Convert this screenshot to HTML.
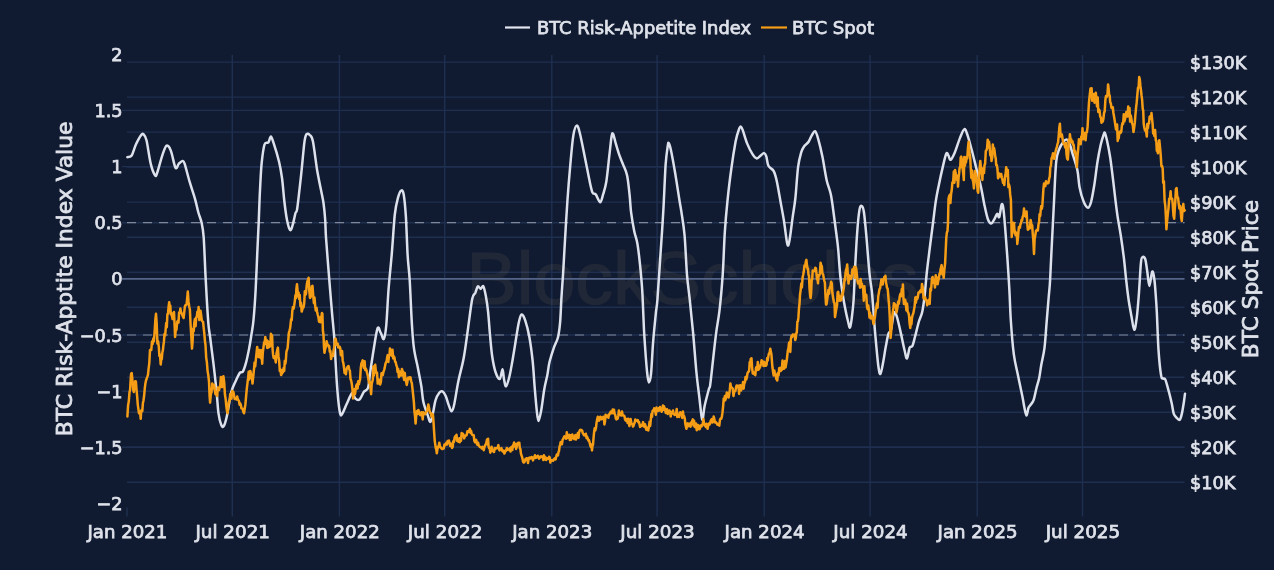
<!DOCTYPE html>
<html lang="en"><head><meta charset="utf-8"><title>BTC Risk-Appetite Index vs BTC Spot</title>
<style>html,body{margin:0;padding:0;background:#101b31;}body{width:1274px;height:570px;overflow:hidden;}svg{display:block;filter:blur(0.5px);}</style>
</head><body>
<svg width="1274" height="570" viewBox="0 0 1274 570">
<rect width="1274" height="570" fill="#101b31"/>
<g stroke="#1f2f50" stroke-width="1.4" fill="none"><line x1="127.0" y1="507.5" x2="127.0" y2="516.5"/><line x1="232.3" y1="55.0" x2="232.3" y2="516.5"/><line x1="339.4" y1="55.0" x2="339.4" y2="516.5"/><line x1="444.7" y1="55.0" x2="444.7" y2="516.5"/><line x1="551.8" y1="55.0" x2="551.8" y2="516.5"/><line x1="657.1" y1="55.0" x2="657.1" y2="516.5"/><line x1="764.2" y1="55.0" x2="764.2" y2="516.5"/><line x1="870.1" y1="55.0" x2="870.1" y2="516.5"/><line x1="977.2" y1="55.0" x2="977.2" y2="516.5"/><line x1="1082.5" y1="55.0" x2="1082.5" y2="516.5"/><line x1="127.0" y1="482.3" x2="1184.5" y2="482.3"/><line x1="127.0" y1="447.3" x2="1184.5" y2="447.3"/><line x1="127.0" y1="412.3" x2="1184.5" y2="412.3"/><line x1="127.0" y1="377.2" x2="1184.5" y2="377.2"/><line x1="127.0" y1="342.2" x2="1184.5" y2="342.2"/><line x1="127.0" y1="307.2" x2="1184.5" y2="307.2"/><line x1="127.0" y1="272.2" x2="1184.5" y2="272.2"/><line x1="127.0" y1="237.2" x2="1184.5" y2="237.2"/><line x1="127.0" y1="202.1" x2="1184.5" y2="202.1"/><line x1="127.0" y1="167.1" x2="1184.5" y2="167.1"/><line x1="127.0" y1="132.1" x2="1184.5" y2="132.1"/><line x1="127.0" y1="97.1" x2="1184.5" y2="97.1"/><line x1="127.0" y1="62.1" x2="1184.5" y2="62.1"/><line x1="122.0" y1="110.4" x2="1184.5" y2="110.4"/><line x1="122.0" y1="166.6" x2="1184.5" y2="166.6"/><line x1="122.0" y1="222.7" x2="1184.5" y2="222.7"/><line x1="122.0" y1="335.0" x2="1184.5" y2="335.0"/><line x1="122.0" y1="391.2" x2="1184.5" y2="391.2"/><line x1="122.0" y1="447.3" x2="1184.5" y2="447.3"/></g>
<text x="466.5" y="304" font-family="Liberation Sans, Arial, sans-serif" font-size="74" fill="#a08868" stroke="#a08868" stroke-width="1.2" opacity="0.115" textLength="452" lengthAdjust="spacingAndGlyphs">BlockScholes</text>
<line x1="122.0" y1="278.9" x2="1184.5" y2="278.9" stroke="#55658a" stroke-width="1.6"/>
<line x1="127.0" y1="222.7" x2="1184.5" y2="222.7" stroke="#7f8798" stroke-width="1.2" stroke-dasharray="9,7"/>
<line x1="127.0" y1="335.0" x2="1184.5" y2="335.0" stroke="#7f8798" stroke-width="1.2" stroke-dasharray="9,7"/>
<path d="M127.4,157.2C128.1,156.9 130.3,157.6 131.7,155.5C133.1,153.4 134.3,147.9 135.9,144.5C137.5,141.1 139.9,136.7 141.2,135.0C142.5,133.3 142.8,133.6 143.7,134.5C144.6,135.4 145.3,135.5 146.5,140.3C147.7,145.2 149.3,157.8 150.7,163.6C152.1,169.4 153.9,173.6 155.0,175.2C156.1,176.8 155.9,176.4 157.1,173.1C158.3,169.8 160.8,159.7 162.4,155.1C164.0,150.5 165.2,146.3 166.6,145.6C168.0,144.9 169.4,147.2 170.9,150.9C172.4,154.6 174.2,165.7 175.5,167.8C176.8,169.9 177.7,164.7 178.9,163.6C180.1,162.5 181.6,161.0 182.5,161.0C183.4,161.0 183.4,160.0 184.6,163.6C185.8,167.2 188.1,176.7 189.9,182.7C191.7,188.7 193.8,194.5 195.2,199.6C196.6,204.7 197.4,209.2 198.5,213.0C199.6,216.8 200.7,218.6 201.6,222.7C202.5,226.8 203.1,229.0 203.7,237.5C204.3,246.0 204.9,263.0 205.4,273.6C205.9,284.2 206.4,292.5 206.9,301.1C207.4,309.7 208.0,319.0 208.5,325.0C209.0,331.0 209.3,330.8 210.1,337.0C210.9,343.2 212.2,353.6 213.3,362.4C214.4,371.2 215.5,381.5 216.4,390.0C217.3,398.5 217.7,407.5 218.5,413.3C219.3,419.1 220.4,422.8 221.3,424.9C222.2,427.0 222.9,427.6 223.8,426.0C224.8,424.4 225.8,421.0 227.0,415.4C228.2,409.8 229.9,397.8 231.3,392.1C232.7,386.5 234.1,384.7 235.5,381.5C236.9,378.3 238.5,374.7 239.7,373.0C240.9,371.3 241.8,373.3 242.9,371.5C244.0,369.7 245.0,366.4 246.1,362.4C247.2,358.4 248.4,352.2 249.3,347.6C250.2,343.0 250.7,339.4 251.4,334.8C252.1,330.2 252.8,327.4 253.5,320.0C254.2,312.6 255.0,301.8 255.6,290.5C256.2,279.2 256.8,264.1 257.3,252.4C257.8,240.7 258.4,230.4 258.8,220.0C259.2,209.6 259.5,199.4 260.0,190.0C260.5,180.6 260.9,171.2 261.6,163.6C262.4,156.0 263.4,148.0 264.5,144.5C265.6,141.0 267.3,143.7 268.4,142.4C269.5,141.1 270.0,136.3 270.9,136.5C271.8,136.7 272.3,139.2 273.7,143.4C275.1,147.6 277.6,155.7 279.0,161.5C280.4,167.3 281.1,171.6 282.0,178.0C282.9,184.4 283.4,193.0 284.2,200.0C285.0,207.0 286.0,215.0 287.0,220.0C288.0,225.0 289.2,229.3 290.2,230.1C291.1,230.9 291.8,227.7 292.7,224.8C293.6,222.0 294.7,215.8 295.5,213.0C296.3,210.2 296.4,214.5 297.3,208.0C298.2,201.5 300.0,185.1 301.2,174.2C302.4,163.3 303.5,149.1 304.4,142.4C305.3,135.8 305.6,135.5 306.5,134.3C307.4,133.1 308.6,133.8 309.7,135.0C310.8,136.2 311.7,135.5 312.9,141.3C314.1,147.1 315.8,161.9 317.1,170.0C318.5,178.1 319.9,184.5 321.0,190.0C322.1,195.5 322.8,198.0 323.5,203.0C324.2,208.0 324.8,214.2 325.2,220.0C325.6,225.8 325.4,228.6 326.0,237.5C326.6,246.4 327.8,261.2 328.8,273.6C329.8,286.0 331.1,302.3 331.9,311.7C332.7,321.1 333.2,325.1 333.6,330.0C334.0,334.9 334.1,334.0 334.5,341.2C334.9,348.4 335.6,363.1 336.2,373.0C336.8,382.9 337.6,393.6 338.3,400.5C339.0,407.4 339.7,412.2 340.4,414.3C341.1,416.4 341.4,415.1 342.5,413.3C343.6,411.5 345.2,407.1 346.8,403.7C348.4,400.3 350.7,394.0 352.1,393.1C353.5,392.2 354.0,397.3 355.2,398.4C356.4,399.5 358.1,400.6 359.5,399.5C360.9,398.4 362.3,394.1 363.7,392.1C365.1,390.2 366.9,391.0 368.0,387.8C369.1,384.6 369.2,379.0 370.1,373.0C371.0,367.0 372.1,359.2 373.3,351.8C374.5,344.4 376.3,331.7 377.5,328.5C378.7,325.3 379.6,330.9 380.7,332.7C381.8,334.4 382.9,340.1 383.8,339.0C384.7,337.9 385.4,334.2 386.2,326.0C387.0,317.8 387.6,301.9 388.5,290.0C389.4,278.1 390.6,267.4 391.7,254.8C392.8,242.2 393.8,224.0 394.8,214.5C395.9,205.0 396.9,201.6 398.0,197.6C399.1,193.6 400.2,191.1 401.2,190.6C402.1,190.1 402.9,190.1 403.7,194.4C404.5,198.7 405.2,206.5 405.9,216.6C406.5,226.7 407.0,244.2 407.6,254.8C408.2,265.4 409.0,268.7 409.7,280.0C410.4,291.3 411.1,311.1 411.8,322.4C412.5,333.7 412.8,340.0 413.9,347.8C414.9,355.6 416.9,362.6 418.1,369.0C419.3,375.4 420.4,380.5 421.3,386.0C422.2,391.5 422.3,397.1 423.4,402.0C424.5,406.9 426.5,411.8 427.7,415.1C428.9,418.4 429.5,422.2 430.4,421.9C431.3,421.5 432.1,416.6 433.0,413.0C433.9,409.4 434.4,403.7 435.5,400.3C436.6,396.9 438.1,394.3 439.3,392.8C440.5,391.3 441.4,390.9 442.5,391.4C443.6,391.9 444.6,393.6 445.7,396.0C446.8,398.4 447.9,403.1 448.9,405.6C449.9,408.2 450.7,411.5 451.6,411.3C452.5,411.1 453.1,409.6 454.2,404.5C455.3,399.4 456.8,388.8 458.4,381.0C460.0,373.2 462.1,366.7 463.7,358.0C465.3,349.3 466.6,338.5 468.0,328.7C469.4,318.9 471.0,305.1 472.2,299.1C473.4,293.1 474.4,294.8 475.4,292.7C476.3,290.6 477.0,287.0 477.9,286.4C478.8,285.8 479.8,288.9 480.7,288.9C481.6,288.9 482.5,285.0 483.4,286.4C484.3,287.8 485.2,292.8 486.0,297.0C486.8,301.2 487.4,305.1 488.1,311.8C488.8,318.5 489.5,329.7 490.2,337.2C490.9,344.7 491.4,351.2 492.3,357.0C493.2,362.8 494.3,368.3 495.5,372.0C496.7,375.7 498.5,379.4 499.7,379.0C500.9,378.6 501.8,369.2 502.5,369.3C503.2,369.4 503.4,376.5 504.0,379.3C504.6,382.1 505.2,386.7 506.1,386.3C507.0,385.9 508.2,381.3 509.3,377.0C510.4,372.7 511.4,366.4 512.5,360.5C513.5,354.6 514.6,347.9 515.6,341.5C516.6,335.1 517.8,326.9 518.8,322.4C519.8,317.9 520.5,314.9 521.6,314.5C522.7,314.1 523.9,316.5 525.2,320.3C526.5,324.1 528.2,330.5 529.4,337.2C530.6,343.9 531.7,352.1 532.6,360.5C533.5,368.9 534.0,379.2 534.7,387.6C535.4,396.0 536.2,405.3 536.8,410.9C537.4,416.5 537.8,421.0 538.5,421.0C539.2,421.0 540.1,416.1 541.1,410.9C542.1,405.7 543.2,395.7 544.2,389.7C545.2,383.7 546.5,379.4 547.4,374.8C548.3,370.2 548.4,366.5 549.5,362.0C550.6,357.5 552.4,351.9 553.8,347.8C555.2,343.7 557.0,341.4 558.0,337.2C559.0,333.0 559.5,329.1 560.1,322.4C560.7,315.7 561.0,304.9 561.5,297.0C562.0,289.1 562.5,282.8 563.0,275.0C563.5,267.2 563.7,262.8 564.4,250.5C565.1,238.2 566.4,215.3 567.4,201.0C568.4,186.7 569.3,175.8 570.3,164.8C571.3,153.8 572.3,141.6 573.4,135.1C574.5,128.6 575.5,125.9 576.6,125.6C577.7,125.2 578.4,127.5 579.8,133.0C581.2,138.5 583.5,150.6 585.1,158.4C586.7,166.2 588.1,173.9 589.3,179.6C590.5,185.3 591.4,190.0 592.5,192.5C593.6,195.0 594.4,192.8 595.7,194.4C597.0,196.0 599.0,202.2 600.2,202.2C601.4,202.2 602.1,197.8 603.1,194.4C604.1,191.0 605.2,188.4 606.3,181.7C607.4,175.0 608.6,161.8 609.5,154.2C610.4,146.6 611.0,139.6 611.6,136.2C612.2,132.8 612.4,132.8 613.1,134.0C613.8,135.2 614.8,140.2 615.8,143.6C616.8,147.0 617.8,150.7 619.0,154.2C620.2,157.7 621.9,161.3 623.2,164.8C624.6,168.3 626.0,170.4 627.1,175.4C628.2,180.4 628.9,188.8 629.6,195.0C630.3,201.2 630.3,206.3 631.1,212.4C631.9,218.5 633.2,226.2 634.3,231.5C635.4,236.8 636.4,237.5 637.5,244.2C638.6,250.9 639.9,263.2 640.7,271.7C641.5,280.2 642.0,285.3 642.5,295.0C643.0,304.7 643.5,320.8 644.0,330.0C644.5,339.2 644.8,342.7 645.3,350.0C645.8,357.3 646.7,368.6 647.3,374.0C647.9,379.4 648.3,382.4 648.9,382.4C649.5,382.4 650.3,380.9 651.0,374.2C651.7,367.5 652.3,352.6 653.1,342.4C653.9,332.1 655.2,319.8 655.9,312.7C656.6,305.6 656.7,308.8 657.4,300.0C658.1,291.2 659.1,274.8 660.1,260.0C661.1,245.2 662.4,227.1 663.3,211.2C664.2,195.3 664.9,175.7 665.6,164.8C666.4,153.9 667.3,149.3 667.8,145.7C668.3,142.1 668.3,142.5 668.8,143.2C669.3,143.9 669.8,144.9 670.9,149.9C672.0,154.9 673.8,165.0 675.2,173.3C676.6,181.7 678.4,193.7 679.4,200.0C680.4,206.3 680.4,205.4 681.3,211.2C682.1,216.9 683.5,223.9 684.5,234.5C685.5,245.1 686.1,263.9 687.0,274.8C687.9,285.8 688.8,290.7 689.8,300.2C690.8,309.7 691.9,320.2 693.0,331.8C694.1,343.4 695.2,359.1 696.2,370.0C697.2,380.9 698.3,388.8 699.3,397.0C700.3,405.2 701.3,418.0 702.2,419.5C703.1,421.0 703.5,411.1 704.6,406.0C705.7,400.9 708.0,392.5 708.9,389.0C709.8,385.5 709.5,389.8 710.2,384.8C710.9,379.9 712.1,368.1 713.1,359.3C714.1,350.5 715.2,340.0 716.3,331.8C717.4,323.6 718.4,319.8 719.5,310.3C720.6,300.8 721.8,287.8 722.7,274.8C723.6,261.8 724.0,244.8 724.8,232.4C725.6,220.0 726.4,211.2 727.5,200.6C728.6,190.0 729.9,178.8 731.3,169.0C732.6,159.2 734.4,148.0 735.6,141.5C736.9,135.0 737.9,132.3 738.8,129.8C739.7,127.3 740.2,126.4 740.9,126.6C741.6,126.8 742.0,128.1 743.0,130.9C744.0,133.7 745.6,139.7 747.2,143.6C748.8,147.5 750.9,151.7 752.5,154.2C754.1,156.7 755.4,158.2 756.8,158.4C758.2,158.6 759.8,156.1 761.0,155.2C762.2,154.3 763.3,152.9 764.2,153.1C765.1,153.3 765.6,154.2 766.3,156.3C767.0,158.4 767.2,163.3 768.4,165.8C769.6,168.3 772.3,168.4 773.7,171.1C775.1,173.8 775.8,176.6 776.9,181.7C778.0,186.8 779.3,194.8 780.5,201.5C781.7,208.2 783.0,214.7 784.1,221.8C785.2,228.9 786.4,240.8 787.3,244.0C788.2,247.2 788.5,245.3 789.4,240.9C790.3,236.5 791.6,224.8 792.6,217.6C793.6,210.4 794.5,206.4 795.4,198.0C796.3,189.6 797.1,174.5 798.1,166.9C799.1,159.3 800.2,155.9 801.2,152.4C802.2,148.9 803.2,147.8 804.4,146.0C805.6,144.2 807.4,143.6 808.6,141.8C809.8,140.0 810.7,137.2 811.8,135.4C812.9,133.6 814.0,130.7 815.0,131.2C816.0,131.7 816.9,134.4 818.1,138.6C819.3,142.8 821.0,149.7 822.4,156.6C823.8,163.5 825.2,173.5 826.6,179.9C828.0,186.3 829.7,188.8 830.9,194.8C832.1,200.8 833.1,209.3 834.0,216.0C834.9,222.7 835.8,229.4 836.5,235.0C837.2,240.6 837.6,242.5 838.2,249.3C838.8,256.1 839.5,268.2 840.3,276.0C841.1,283.8 842.2,290.5 843.0,296.0C843.8,301.5 844.5,305.0 845.3,309.0C846.1,313.0 846.9,316.9 847.7,320.0C848.5,323.1 849.3,328.1 850.0,327.6C850.7,327.1 851.3,321.6 851.9,317.0C852.5,312.4 853.1,307.8 853.6,300.0C854.1,292.2 854.4,281.5 855.0,270.0C855.6,258.5 856.5,241.1 857.3,231.0C858.0,220.9 858.8,213.8 859.5,209.6C860.2,205.4 861.1,205.6 861.8,206.0C862.5,206.4 863.1,206.7 863.9,212.0C864.7,217.3 865.6,227.3 866.5,237.6C867.4,247.9 868.6,264.7 869.5,273.6C870.4,282.5 871.1,284.6 871.8,291.0C872.5,297.4 872.9,304.7 873.5,312.0C874.1,319.3 874.5,326.2 875.3,335.0C876.1,343.8 877.4,358.5 878.2,365.0C879.1,371.5 879.6,374.5 880.4,374.0C881.2,373.5 882.3,366.6 883.2,362.0C884.1,357.4 884.9,351.3 885.8,346.6C886.7,341.9 887.5,336.8 888.4,333.9C889.3,331.0 890.2,332.8 891.1,329.3C892.0,325.9 893.0,315.4 893.9,313.2C894.8,310.9 895.5,312.7 896.6,315.8C897.7,318.9 899.2,325.9 900.5,331.6C901.8,337.3 903.4,345.5 904.5,350.0C905.6,354.5 906.1,358.9 907.0,358.5C907.9,358.1 908.7,349.9 909.6,347.8C910.5,345.7 911.5,347.8 912.4,346.0C913.3,344.2 913.9,340.9 915.0,336.8C916.1,332.7 917.7,325.6 918.9,321.5C920.1,317.4 921.3,316.1 922.2,312.0C923.1,307.9 923.7,303.6 924.5,297.0C925.3,290.4 925.9,280.8 926.8,272.5C927.7,264.2 928.9,255.2 929.9,247.0C930.9,238.8 932.0,230.7 933.0,223.0C934.0,215.3 934.8,207.6 935.8,201.1C936.8,194.6 937.8,190.2 939.0,184.2C940.2,178.2 942.0,170.2 943.2,165.1C944.4,160.0 945.5,155.0 946.4,153.4C947.3,151.8 947.8,154.5 948.5,155.6C949.2,156.7 949.6,160.3 950.6,159.8C951.6,159.3 953.2,156.1 954.8,152.4C956.4,148.7 958.5,141.5 960.1,137.6C961.7,133.7 963.1,129.5 964.4,129.1C965.6,128.7 966.4,131.9 967.6,135.4C968.8,138.9 970.2,144.3 971.8,150.3C973.4,156.3 975.5,165.2 977.1,171.5C978.7,177.8 980.1,182.8 981.3,188.4C982.5,194.1 983.4,200.2 984.5,205.4C985.6,210.6 986.8,216.3 987.9,219.3C989.0,222.3 990.0,223.6 991.1,223.6C992.2,223.6 993.3,220.9 994.3,219.3C995.3,217.7 996.4,214.2 997.2,213.8C998.0,213.4 998.5,218.6 999.3,217.0C1000.0,215.4 1001.0,205.7 1001.7,204.5C1002.4,203.3 1002.9,205.2 1003.5,209.6C1004.1,214.0 1004.8,223.2 1005.4,231.0C1006.0,238.8 1006.6,246.7 1007.3,256.6C1008.0,266.5 1008.8,279.9 1009.4,290.5C1010.0,301.1 1010.1,309.4 1010.8,320.0C1011.5,330.6 1012.6,345.0 1013.8,354.2C1015.0,363.4 1016.6,368.4 1018.0,375.4C1019.4,382.4 1021.2,390.6 1022.3,396.0C1023.4,401.4 1023.7,404.3 1024.4,407.6C1025.1,410.9 1025.8,415.6 1026.5,415.6C1027.2,415.6 1027.7,409.7 1028.6,407.6C1029.5,405.6 1030.9,404.7 1031.8,403.3C1032.7,401.9 1033.1,401.7 1033.9,399.1C1034.7,396.6 1035.6,391.5 1036.5,388.0C1037.4,384.5 1038.4,381.9 1039.2,378.0C1040.0,374.1 1040.4,369.8 1041.3,364.8C1042.2,359.8 1043.6,354.9 1044.5,347.8C1045.4,340.7 1045.9,330.9 1046.6,322.4C1047.3,313.9 1048.1,304.1 1048.7,297.0C1049.3,289.9 1049.6,289.0 1050.1,280.0C1050.6,271.0 1051.2,256.0 1051.9,243.0C1052.6,230.0 1053.3,215.4 1054.0,201.8C1054.7,188.2 1055.3,170.5 1056.2,161.7C1057.1,152.9 1058.1,152.3 1059.3,149.0C1060.5,145.7 1062.3,143.2 1063.6,141.6C1064.8,140.0 1065.8,139.0 1066.8,139.5C1067.8,140.0 1068.9,142.2 1069.9,144.8C1071.0,147.5 1071.8,151.2 1073.1,155.4C1074.3,159.6 1076.3,164.9 1077.4,170.2C1078.5,175.5 1078.5,181.7 1079.5,187.0C1080.5,192.3 1082.3,198.4 1083.7,201.8C1085.1,205.2 1086.8,207.7 1088.0,207.7C1089.2,207.7 1090.0,205.6 1091.1,201.8C1092.1,198.0 1093.2,191.7 1094.3,185.0C1095.4,178.3 1096.4,168.4 1097.5,161.7C1098.6,155.0 1099.7,149.4 1100.7,144.8C1101.8,140.2 1103.1,136.1 1103.8,134.2C1104.5,132.2 1104.4,132.0 1104.9,133.1C1105.4,134.2 1106.1,136.4 1107.0,140.5C1107.9,144.6 1109.3,151.6 1110.2,157.5C1111.1,163.4 1111.9,170.4 1112.6,176.0C1113.3,181.6 1113.6,184.4 1114.4,191.2C1115.2,198.0 1116.5,209.2 1117.6,216.6C1118.7,224.0 1119.7,228.6 1120.8,235.7C1121.9,242.8 1123.1,251.4 1124.0,259.0C1124.9,266.6 1125.5,274.3 1126.3,281.0C1127.0,287.7 1127.7,293.2 1128.5,299.0C1129.3,304.8 1130.5,310.9 1131.4,316.0C1132.4,321.1 1133.3,329.4 1134.2,329.8C1135.1,330.2 1135.9,323.9 1136.7,318.1C1137.5,312.3 1138.1,304.1 1138.8,295.0C1139.5,285.9 1140.3,269.5 1140.9,263.2C1141.5,256.9 1141.7,258.0 1142.4,257.3C1143.1,256.6 1144.4,256.6 1145.2,259.0C1146.0,261.4 1146.6,267.2 1147.3,271.7C1148.0,276.2 1148.6,286.0 1149.4,286.0C1150.2,286.0 1151.4,272.9 1152.2,271.7C1153.0,270.5 1153.8,275.6 1154.3,279.0C1154.8,282.4 1155.1,286.5 1155.5,292.0C1155.9,297.5 1156.3,302.2 1156.8,311.8C1157.3,321.4 1157.8,339.3 1158.5,349.9C1159.2,360.5 1160.3,370.6 1161.1,375.4C1161.9,380.2 1162.5,377.8 1163.2,378.5C1163.9,379.2 1164.4,377.6 1165.3,379.6C1166.2,381.6 1167.4,386.4 1168.5,390.4C1169.6,394.3 1170.8,399.4 1171.7,403.3C1172.6,407.2 1172.9,411.4 1173.8,413.9C1174.7,416.4 1176.0,417.1 1177.0,418.1C1178.0,419.1 1178.9,420.5 1179.7,419.8C1180.5,419.1 1181.1,417.0 1181.8,413.9C1182.5,410.8 1183.5,404.5 1184.0,401.2C1184.5,397.9 1184.8,395.0 1185.0,393.8" fill="none" stroke="#dde1ec" stroke-width="2.5" stroke-linejoin="round" stroke-linecap="round"/>
<path d="M127.4,416.4L128.1,405.2L128.8,401.1L129.5,392.0L130.1,389.9L130.6,380.9L131.1,373.9L131.7,373.0L132.2,377.6L132.8,384.0L133.3,390.2L133.8,392.0L134.5,385.0L135.2,381.2L135.9,381.5L136.5,389.6L137.1,395.6L137.8,404.8L138.4,409.1L139.0,413.3L139.6,412.7L140.1,411.9L140.7,418.8L141.2,411.1L141.8,409.9L142.3,411.1L142.9,403.1L143.5,400.4L144.2,395.0L144.8,388.2L145.4,383.6L146.0,380.5L146.7,378.5L147.3,376.9L148.0,374.7L148.6,368.7L149.3,363.1L150.0,350.1L150.7,349.7L151.3,350.0L152.0,341.4L152.6,344.0L153.3,338.6L153.9,341.2L154.6,332.1L155.3,320.2L156.0,313.8L156.7,323.7L157.4,343.4L158.1,341.2L158.8,346.9L159.4,355.8L160.0,354.6L160.7,364.5L161.2,359.9L161.8,359.1L162.3,352.7L162.9,350.3L163.4,345.4L163.9,341.9L164.5,334.1L165.1,335.6L165.6,330.0L166.2,323.0L166.8,327.3L167.4,314.2L168.0,313.9L168.6,306.8L169.2,302.2L169.7,307.9L170.3,305.5L170.8,314.2L171.4,312.9L171.9,316.0L172.6,319.1L173.3,315.5L174.0,312.0L174.6,325.0L175.1,337.0L175.8,329.3L176.5,329.7L177.2,322.0L177.8,320.7L178.5,322.6L179.1,312.5L179.8,312.9L180.4,308.5L181.0,312.0L181.7,313.3L182.3,315.0L183.0,316.7L183.6,318.0L184.2,312.6L184.8,307.0L185.4,305.2L186.0,305.1L186.6,304.4L187.2,298.2L187.8,291.6L188.5,301.4L189.2,306.4L189.9,309.6L190.6,325.0L191.3,336.2L192.0,348.6L192.6,341.4L193.1,328.7L193.7,331.1L194.3,322.7L194.9,318.9L195.6,326.2L196.2,317.4L196.8,316.8L197.4,311.7L198.0,314.2L198.6,307.1L199.3,320.0L199.9,316.4L200.5,310.7L201.1,314.7L201.8,320.4L202.4,321.5L203.1,321.9L203.7,328.0L204.3,333.3L204.9,340.6L205.5,345.0L206.2,357.6L206.9,362.4L207.6,371.1L208.3,375.3L209.0,381.5L209.6,396.1L210.1,402.7L210.8,394.3L211.5,392.2L212.2,383.6L212.8,388.6L213.5,387.0L214.1,384.7L214.8,389.9L215.4,394.2L216.0,393.8L216.6,393.8L217.2,396.0L217.8,387.6L218.4,389.6L219.0,390.2L219.6,387.8L220.2,385.5L220.9,376.9L221.5,384.5L222.1,387.1L222.8,380.7L223.4,376.2L224.2,382.4L224.9,394.2L225.6,398.7L226.3,406.0L227.0,411.1L227.6,413.2L228.3,406.0L228.9,401.3L229.6,401.3L230.2,394.2L230.8,393.6L231.5,398.7L232.1,391.0L232.8,391.4L233.4,392.1L234.0,395.3L234.7,399.1L235.3,398.4L236.0,398.7L236.6,399.5L237.2,396.5L237.8,399.2L238.4,400.1L239.0,401.1L239.6,404.8L240.2,403.4L240.8,404.8L241.4,408.2L242.1,408.4L242.7,409.1L243.4,411.9L244.0,413.3L244.7,408.7L245.4,404.2L246.1,396.3L246.8,388.6L247.5,382.9L248.2,377.2L248.7,371.7L249.2,379.4L249.8,376.8L250.3,370.9L250.9,373.5L251.4,375.7L251.9,376.9L252.5,383.6L253.2,377.1L253.9,370.1L254.6,362.4L255.2,366.5L255.9,359.0L256.5,353.4L257.2,346.9L257.8,351.8L258.4,357.1L259.0,355.0L259.7,350.1L260.3,357.4L260.9,358.1L261.5,350.3L262.2,363.7L262.8,352.5L263.5,347.1L264.1,342.3L264.7,342.6L265.3,336.9L265.9,344.1L266.6,339.9L267.2,348.0L267.8,341.2L268.4,347.6L269.0,342.4L269.6,346.7L270.3,345.7L270.9,333.8L271.5,334.8L272.1,335.8L272.6,349.5L273.1,354.9L273.7,358.1L274.2,356.2L274.8,357.9L275.3,359.2L275.8,362.4L276.5,353.6L277.2,350.3L277.9,347.6L278.5,356.7L279.2,360.9L279.8,371.0L280.5,369.4L281.1,375.1L281.7,373.9L282.3,370.2L283.0,372.2L283.6,368.1L284.2,370.9L284.8,360.8L285.3,363.7L285.8,361.0L286.4,351.8L287.0,350.0L287.6,348.0L288.3,340.0L288.9,332.7L289.5,330.6L290.1,328.3L290.6,324.0L291.1,319.2L291.7,320.2L292.3,311.2L292.9,307.1L293.6,308.7L294.2,305.4L294.8,301.1L295.4,295.3L295.9,298.1L296.4,289.0L297.0,284.2L297.5,289.9L298.1,296.3L298.6,292.5L299.1,299.0L299.7,294.9L300.4,306.0L301.0,302.8L301.7,311.6L302.3,309.6L302.9,307.7L303.5,307.4L304.2,303.6L304.8,291.2L305.4,294.8L306.0,293.7L306.7,285.4L307.3,281.7L308.0,279.8L308.6,277.8L309.3,290.9L310.0,298.0L310.6,297.3L311.2,293.9L311.8,286.3L312.5,285.9L313.2,295.4L313.9,303.2L314.5,297.5L315.2,306.2L315.8,310.5L316.5,307.6L317.1,311.7L317.7,314.6L318.4,316.8L319.0,321.7L319.7,317.7L320.3,322.3L320.8,317.1L321.3,318.0L321.9,313.1L322.4,313.8L322.9,330.7L323.5,334.8L324.0,347.7L324.5,352.8L325.0,349.5L325.6,347.8L326.1,344.5L326.6,341.2L327.2,343.9L327.9,344.7L328.5,346.4L329.2,346.0L329.8,351.8L330.4,350.8L331.1,359.1L331.7,356.2L332.4,355.3L333.0,356.0L333.5,351.1L334.1,347.7L334.6,344.4L335.1,339.0L335.7,338.8L336.4,343.1L337.0,345.0L337.7,343.7L338.3,347.6L338.9,346.6L339.6,346.7L340.2,347.8L340.9,355.3L341.5,354.0L342.1,351.0L342.7,360.7L343.4,363.4L344.0,367.5L344.6,373.0L345.2,372.0L345.9,374.2L346.5,369.4L347.2,367.5L347.8,366.6L348.5,366.1L349.2,369.1L349.9,370.9L350.5,378.9L351.2,380.7L351.8,384.0L352.5,389.8L353.1,398.4L353.7,393.2L354.4,389.3L355.0,394.0L355.7,389.1L356.3,385.7L356.9,384.2L357.6,388.5L358.2,381.2L358.9,384.3L359.5,381.5L360.1,379.4L360.8,368.0L361.4,363.6L362.1,361.9L362.7,360.3L363.3,364.6L363.9,368.0L364.6,361.2L365.2,370.0L365.8,368.7L366.5,370.4L367.1,373.0L367.8,375.6L368.5,380.0L369.1,382.7L369.8,381.5L370.5,388.0L371.1,394.2L371.7,384.0L372.2,382.0L372.8,379.7L373.3,366.6L373.9,375.6L374.5,368.0L375.2,364.7L375.8,370.6L376.4,373.0L377.0,372.6L377.7,383.6L378.3,381.2L379.0,379.6L379.6,383.6L380.2,384.4L380.9,381.9L381.5,373.3L382.2,375.4L382.8,375.1L383.4,371.9L384.1,370.1L384.7,367.9L385.4,364.0L386.0,362.4L386.6,361.4L387.1,357.8L387.7,355.1L388.3,362.0L388.9,356.5L389.5,355.2L390.0,348.4L390.6,351.0L391.2,351.6L391.9,355.9L392.5,349.8L393.2,358.4L393.8,356.3L394.4,357.3L395.1,361.9L395.7,362.2L396.4,365.4L397.0,366.9L397.6,372.0L398.2,369.0L398.9,377.2L399.5,371.5L400.1,375.4L400.7,371.6L401.3,375.6L401.9,368.9L402.5,371.0L403.1,371.7L403.7,377.4L404.2,380.1L404.8,373.1L405.4,379.6L406.0,380.6L406.7,384.9L407.3,382.4L408.0,377.7L408.6,378.0L409.2,377.4L409.9,379.1L410.5,377.4L411.2,381.3L411.8,383.0L412.5,388.9L413.2,395.5L413.9,402.4L414.5,412.4L415.0,416.0L415.6,423.6L416.4,413.7L417.1,410.9L417.7,414.0L418.4,409.9L419.0,412.3L419.7,414.0L420.3,415.1L420.9,414.2L421.5,412.2L422.1,413.6L422.7,419.4L423.3,412.2L423.9,413.0L424.5,413.0L425.1,414.3L425.8,412.8L426.4,411.8L427.1,410.6L427.7,407.7L428.3,404.5L429.0,407.6L429.6,411.2L430.3,413.0L430.9,413.0L431.4,416.4L431.9,415.2L432.5,414.0L433.0,415.1L433.6,423.7L434.1,431.6L434.7,440.5L435.2,444.1L435.8,448.2L436.3,449.6L436.8,453.3L437.4,449.4L438.1,446.4L438.7,447.2L439.3,442.7L439.9,446.0L440.6,447.1L441.2,448.1L441.9,449.0L442.5,449.0L443.1,448.2L443.8,448.5L444.4,444.6L445.1,445.3L445.7,444.8L446.3,442.8L447.0,444.5L447.6,441.1L448.3,441.2L448.9,440.5L449.5,442.6L450.2,446.0L450.8,443.5L451.5,445.0L452.1,447.9L452.7,446.9L453.3,441.2L454.0,441.8L454.6,437.7L455.2,436.3L455.8,437.2L456.5,434.8L457.1,440.9L457.8,439.7L458.4,441.6L459.0,438.4L459.7,442.3L460.3,437.9L461.0,440.9L461.6,433.1L462.2,434.5L462.9,433.7L463.5,435.2L464.2,438.4L464.8,436.3L465.4,435.4L466.1,435.6L466.7,434.9L467.4,431.3L468.0,432.1L468.6,432.1L469.2,430.6L469.9,428.8L470.5,432.8L471.1,431.0L471.7,434.1L472.4,435.0L473.0,434.9L473.7,435.2L474.3,440.5L474.9,442.2L475.6,442.0L476.2,439.9L476.9,443.8L477.5,444.8L478.1,442.8L478.8,445.6L479.4,446.3L480.1,447.0L480.7,446.9L481.3,447.9L481.9,448.5L482.6,446.8L483.2,448.9L483.8,450.1L484.4,447.2L485.1,445.4L485.7,444.2L486.4,442.6L487.0,439.5L487.5,444.5L488.1,438.8L488.6,446.5L489.1,448.0L489.7,448.2L490.3,452.7L490.9,451.0L491.6,446.8L492.2,450.9L492.8,450.0L493.4,451.1L494.0,452.0L494.7,448.0L495.3,449.1L496.0,448.4L496.6,448.0L497.2,448.0L497.8,447.3L498.4,445.1L499.0,449.4L499.6,450.4L500.2,448.8L500.8,449.0L501.4,448.1L502.0,450.2L502.6,451.4L503.2,450.5L503.8,451.3L504.4,453.6L505.0,452.2L505.6,450.4L506.2,450.7L506.8,448.0L507.5,449.8L508.1,449.5L508.7,449.1L509.3,450.1L509.9,448.4L510.5,451.6L511.1,447.5L511.7,446.9L512.3,450.1L512.9,445.5L513.5,444.8L514.1,442.5L514.8,446.4L515.4,444.3L516.1,449.0L516.7,446.9L517.4,443.3L518.1,443.0L518.8,442.7L519.3,442.7L519.8,448.2L520.4,449.0L520.9,453.3L521.5,455.3L522.0,456.9L522.5,458.7L523.1,461.7L523.7,462.5L524.3,462.3L525.0,460.5L525.6,458.8L526.2,459.6L526.8,458.2L527.4,459.7L528.0,463.0L528.7,458.2L529.3,457.6L529.9,457.8L530.5,458.5L531.1,457.2L531.8,457.0L532.4,457.9L533.0,460.4L533.6,458.0L534.3,457.1L534.9,455.3L535.5,458.0L536.2,457.6L536.8,457.5L537.4,456.0L538.0,455.7L538.6,457.1L539.2,458.7L539.7,457.9L540.3,457.1L540.9,456.2L541.5,456.9L542.1,456.4L542.7,456.6L543.3,460.0L543.9,455.3L544.5,456.7L545.0,459.6L545.6,457.4L546.2,460.0L546.8,458.2L547.4,458.5L548.0,458.8L548.6,458.2L549.1,456.8L549.7,457.4L550.3,462.6L550.9,460.1L551.5,460.1L552.1,460.7L552.6,460.1L553.2,460.6L553.8,459.6L554.4,458.7L555.0,458.1L555.6,459.4L556.2,456.6L556.8,454.6L557.4,455.7L558.0,455.4L558.5,451.9L559.0,451.2L559.6,446.3L560.1,444.8L560.7,442.1L561.3,441.8L561.9,444.2L562.6,439.8L563.2,439.0L563.8,437.5L564.4,436.3L565.0,436.6L565.6,437.8L566.2,438.7L566.8,432.3L567.4,438.1L568.0,435.4L568.6,435.2L569.2,434.9L569.8,440.1L570.4,435.3L571.1,439.8L571.7,437.8L572.3,434.5L572.9,436.3L573.5,437.8L574.1,439.1L574.8,438.0L575.4,435.0L576.0,439.5L576.6,437.6L577.2,436.4L577.8,433.1L578.5,437.8L579.1,432.2L579.7,430.6L580.3,429.9L580.9,430.2L581.6,430.0L582.2,430.8L582.9,433.5L583.5,434.2L584.1,435.3L584.7,434.4L585.3,435.8L585.9,433.8L586.5,438.2L587.1,436.7L587.7,438.4L588.3,440.5L589.0,440.1L589.6,442.5L590.3,445.5L590.9,446.9L591.4,444.4L592.0,450.5L592.5,445.3L593.0,444.8L593.5,438.3L594.1,432.1L594.7,428.2L595.3,430.5L596.0,427.6L596.6,422.4L597.2,419.3L597.8,416.8L598.4,418.2L599.0,420.8L599.7,418.1L600.3,416.7L600.9,417.2L601.5,419.3L602.1,417.7L602.7,418.6L603.3,416.8L603.9,418.0L604.4,424.4L605.0,421.4L605.6,414.7L606.2,417.1L606.8,416.2L607.3,416.0L607.9,415.2L608.4,417.7L609.0,414.2L609.5,414.5L610.1,412.8L610.8,411.6L611.4,411.2L612.1,413.3L612.7,409.5L613.3,413.0L614.0,409.8L614.6,413.9L615.3,415.2L615.9,418.7L616.5,419.4L617.1,417.7L617.7,418.6L618.3,415.5L618.9,410.5L619.5,415.0L620.1,413.4L620.7,414.3L621.4,415.5L622.0,411.5L622.7,415.3L623.3,415.6L623.9,415.4L624.5,416.2L625.1,419.6L625.8,420.7L626.4,418.9L627.0,418.9L627.6,423.0L628.2,418.8L628.8,422.1L629.4,426.0L630.0,423.4L630.6,418.9L631.2,422.4L631.8,424.0L632.4,424.3L633.0,426.6L633.6,425.6L634.2,423.5L634.7,422.7L635.3,419.6L635.9,420.7L636.5,420.7L637.1,420.9L637.7,420.1L638.3,422.2L638.9,421.8L639.5,424.1L640.1,426.9L640.7,425.8L641.3,425.1L641.9,426.0L642.5,424.9L643.1,422.1L643.8,425.5L644.4,427.0L645.0,424.3L645.6,426.2L646.3,429.8L647.0,427.6L647.6,430.1L648.3,430.4L648.9,426.8L649.6,421.7L650.2,426.0L650.9,418.7L651.4,414.1L652.0,416.8L652.5,411.1L653.0,410.3L653.6,410.7L654.2,408.3L654.8,408.9L655.4,412.2L655.9,414.7L656.5,407.5L657.1,409.5L657.7,411.0L658.3,409.2L658.9,408.0L659.4,410.5L660.0,407.0L660.6,410.3L661.2,409.8L661.7,411.8L662.3,409.4L662.9,405.6L663.5,409.7L664.0,406.3L664.6,408.1L665.2,410.2L665.8,412.9L666.4,411.5L667.1,409.1L667.7,414.0L668.3,412.1L668.9,412.4L669.5,410.5L670.1,412.1L670.7,416.5L671.3,412.6L671.8,413.9L672.4,413.0L673.0,410.4L673.6,413.4L674.2,414.5L674.8,415.0L675.4,414.7L676.1,413.8L676.7,409.0L677.3,417.1L677.9,415.8L678.5,416.4L679.1,416.9L679.8,412.7L680.4,412.4L681.0,414.0L681.6,413.4L682.2,417.9L682.9,411.4L683.5,416.0L684.2,416.2L684.8,418.7L685.3,423.8L685.8,426.2L686.4,428.7L687.0,425.6L687.6,423.4L688.3,426.3L688.9,425.6L689.5,423.6L690.1,426.2L690.6,426.7L691.2,422.3L691.7,423.6L692.2,420.9L692.8,419.4L693.5,425.5L694.1,420.8L694.8,427.1L695.4,426.2L696.0,423.5L696.7,430.2L697.3,426.9L697.9,425.0L698.6,428.4L699.2,429.3L699.8,429.0L700.4,425.4L701.0,425.5L701.6,426.4L702.2,424.6L702.8,424.0L703.4,418.9L704.0,423.4L704.6,425.4L705.2,425.3L705.8,426.9L706.4,423.8L707.0,425.1L707.6,428.7L708.2,425.3L708.8,423.6L709.5,424.6L710.1,423.4L710.7,420.7L711.3,419.8L711.9,419.0L712.5,422.6L713.1,421.7L713.7,416.5L714.3,418.9L714.9,422.4L715.5,421.9L716.1,422.5L716.8,423.4L717.4,424.6L718.1,423.9L718.7,424.0L719.3,425.6L720.0,419.7L720.6,418.6L721.3,418.7L721.9,416.6L722.5,412.4L723.1,406.6L723.7,398.5L724.3,401.0L724.9,395.9L725.5,399.8L726.2,397.1L726.8,392.4L727.4,394.2L728.0,393.8L728.6,397.5L729.2,394.3L729.8,389.9L730.4,383.4L731.0,387.6L731.6,387.2L732.2,388.0L732.8,388.8L733.5,396.1L734.1,392.1L734.8,391.3L735.4,391.1L736.0,387.7L736.6,385.5L737.3,387.3L737.9,385.7L738.5,385.8L739.1,393.9L739.8,385.5L740.4,385.3L741.1,390.4L741.7,388.0L742.3,387.1L743.0,382.1L743.6,388.7L744.3,383.0L744.9,382.7L745.5,377.1L746.2,379.5L746.8,377.9L747.5,373.3L748.1,372.1L748.6,371.8L749.2,370.1L749.7,362.2L750.2,362.5L750.8,358.6L751.5,358.3L752.1,367.8L752.8,373.6L753.4,372.1L754.0,373.8L754.7,374.6L755.3,375.1L756.0,367.9L756.6,366.8L757.2,370.0L757.8,362.1L758.5,369.7L759.1,368.7L759.7,367.8L760.3,366.3L761.0,363.8L761.6,360.3L762.3,363.2L762.9,361.5L763.5,366.0L764.2,361.9L764.8,365.8L765.5,363.0L766.1,365.7L766.6,364.3L767.2,358.0L767.7,360.5L768.2,357.2L768.9,353.6L769.6,352.6L770.3,348.7L770.8,351.6L771.4,354.2L772.0,362.0L772.5,367.8L773.1,372.0L773.7,375.6L774.4,370.6L775.0,375.1L775.6,374.2L776.2,378.7L776.7,379.6L777.3,380.5L777.9,372.9L778.6,375.2L779.2,368.1L779.9,367.8L780.5,371.1L781.2,370.4L781.8,369.9L782.5,360.6L783.1,367.8L783.7,368.7L784.3,368.5L785.0,361.0L785.6,367.2L786.2,363.6L786.8,360.1L787.3,355.5L787.9,350.2L788.4,348.7L789.0,343.2L789.6,342.1L790.3,351.9L790.9,339.1L791.5,336.0L792.1,336.9L792.7,334.5L793.3,334.7L794.0,335.2L794.6,334.6L795.2,340.1L795.8,338.1L796.3,333.0L796.8,332.8L797.4,321.7L797.9,321.2L798.4,317.7L799.0,308.0L799.5,303.8L800.0,295.0L800.6,290.6L801.3,283.5L801.9,287.5L802.6,277.4L803.2,274.8L803.8,271.3L804.5,265.4L805.1,266.7L805.8,261.6L806.4,259.9L806.9,264.6L807.5,268.7L808.0,268.6L808.5,274.8L809.0,275.7L809.5,288.1L810.1,295.4L810.6,298.1L811.1,293.6L811.7,279.8L812.2,279.5L812.7,270.5L813.3,271.4L814.0,270.8L814.6,270.9L815.3,267.7L815.9,268.4L816.4,272.9L817.0,279.5L817.5,277.8L818.0,283.3L818.6,275.0L819.3,275.7L819.9,273.2L820.6,262.7L821.2,265.2L821.8,266.1L822.5,273.9L823.1,274.2L823.8,278.2L824.4,281.1L824.9,282.6L825.5,296.2L826.0,304.5L826.5,304.4L827.1,300.4L827.8,294.9L828.4,289.9L829.1,293.7L829.7,287.5L830.4,286.5L831.1,281.8L831.8,283.3L832.3,292.2L832.8,295.7L833.4,299.6L833.9,302.3L834.5,303.1L835.0,317.0L835.8,312.1L836.5,308.0L837.1,304.8L837.6,292.7L838.2,291.7L838.8,296.4L839.4,300.5L840.1,300.7L840.7,296.2L841.3,300.2L841.9,293.7L842.6,295.3L843.2,291.3L843.9,287.2L844.5,279.0L845.0,280.5L845.5,273.3L846.1,269.6L846.6,268.4L847.2,264.4L847.9,275.7L848.5,283.6L849.2,275.4L849.8,279.0L850.4,276.2L851.1,279.0L851.7,276.7L852.4,269.5L853.0,272.7L853.6,269.5L854.3,266.7L854.9,278.0L855.6,266.9L856.2,268.4L856.8,273.8L857.5,280.9L858.1,283.4L858.8,283.2L859.4,281.1L860.0,287.7L860.6,278.9L861.3,283.6L861.9,283.9L862.5,287.5L863.1,288.3L863.8,300.8L864.4,286.3L865.1,296.1L865.7,296.0L866.3,294.9L867.0,306.6L867.6,309.2L868.3,305.6L868.9,310.0L869.5,317.6L870.0,312.7L870.6,318.4L871.1,315.8L871.7,316.0L872.3,316.7L872.9,320.0L873.5,324.0L874.2,319.6L874.8,318.2L875.5,312.0L876.2,308.1L877.0,303.2L877.6,307.7L878.2,296.6L878.9,292.6L879.5,289.1L880.1,288.4L880.7,284.2L881.4,279.5L882.0,279.5L882.7,284.5L883.3,279.9L883.8,279.1L884.3,277.1L884.9,278.0L885.4,275.7L886.0,282.6L886.5,284.5L887.0,287.9L887.6,288.4L888.1,293.4L888.7,301.2L889.2,306.5L889.7,316.0L890.6,338.0L891.2,330.8L891.8,324.4L892.3,316.4L892.8,312.4L893.4,307.9L893.9,303.2L894.5,303.8L895.2,304.8L895.8,305.2L896.5,312.4L897.1,309.6L897.6,306.3L898.2,301.5L898.7,303.9L899.2,301.1L899.8,296.0L900.5,293.7L901.1,296.4L901.8,289.1L902.4,292.7L902.9,284.4L903.5,299.0L904.0,304.1L904.5,303.2L905.1,299.7L905.8,303.3L906.4,310.4L907.1,303.8L907.7,311.7L908.4,312.9L909.0,315.4L909.6,323.3L910.3,328.0L910.9,317.8L911.4,324.5L912.0,318.0L912.7,314.7L913.3,313.5L914.0,309.6L914.6,306.5L915.3,297.5L915.9,302.7L916.6,296.9L917.2,299.0L917.8,297.3L918.5,292.4L919.1,292.7L919.8,291.5L920.4,290.5L920.9,292.1L921.5,291.4L922.0,283.9L922.5,286.3L923.0,289.4L923.5,298.3L924.1,297.5L924.6,299.0L925.2,297.5L925.9,300.2L926.5,300.2L927.2,305.3L927.8,303.2L928.4,300.8L929.1,299.5L929.7,303.9L930.4,288.6L931.0,290.5L931.5,284.4L932.0,278.5L932.6,277.0L933.1,279.9L933.7,283.1L934.4,281.9L935.0,287.5L935.7,275.2L936.3,282.1L936.9,277.5L937.6,284.3L938.2,281.0L938.9,278.2L939.5,273.6L940.0,274.5L940.5,269.5L941.1,267.2L941.6,265.1L942.1,268.4L942.7,274.8L943.2,274.1L943.7,277.8L944.4,269.1L945.1,263.6L945.8,248.1L946.3,237.6L946.9,232.3L947.5,231.2L948.0,222.7L948.5,199.0L949.1,196.3L949.8,194.9L950.4,203.1L951.1,193.7L951.7,190.5L952.4,182.4L953.1,182.6L953.8,171.5L954.4,182.7L955.1,169.9L955.7,173.5L956.4,178.7L957.0,179.9L957.5,175.8L958.0,186.6L958.6,177.3L959.1,173.6L959.6,167.7L960.2,167.4L960.7,157.6L961.2,156.6L961.9,159.6L962.6,168.4L963.3,173.6L963.8,180.1L964.3,156.9L964.9,165.8L965.4,160.9L966.0,162.3L966.7,156.7L967.3,158.3L968.0,147.4L968.6,141.8L969.1,148.8L969.7,153.9L970.2,157.3L970.7,167.2L971.3,177.7L972.0,170.4L972.6,179.4L973.3,182.2L973.9,188.4L974.4,181.6L975.0,171.0L975.5,175.8L976.0,173.6L976.5,178.9L977.1,183.8L977.7,191.3L978.2,192.7L978.9,181.4L979.6,168.7L980.3,160.9L980.8,166.9L981.3,173.4L981.9,171.5L982.4,179.9L982.9,170.1L983.5,167.8L984.0,173.1L984.5,165.1L985.1,163.9L985.8,150.9L986.4,150.4L987.1,148.1L987.7,139.7L988.3,147.5L989.0,141.7L989.6,146.2L990.3,155.4L990.9,152.4L991.5,160.9L992.2,157.7L992.8,144.5L993.5,150.7L994.1,148.1L994.6,151.1L995.2,156.3L995.7,158.1L996.2,165.1L996.8,165.0L997.4,168.5L998.1,178.3L998.7,174.6L999.3,173.6L999.9,176.5L1000.6,176.2L1001.2,174.0L1001.9,177.8L1002.5,179.9L1003.1,182.9L1003.7,181.0L1004.3,185.1L1005.0,176.3L1005.6,173.8L1006.2,167.2L1006.8,171.5L1007.3,176.3L1007.8,170.0L1008.4,187.1L1008.9,184.2L1009.6,186.8L1010.2,194.7L1010.9,200.0L1011.7,237.0L1012.4,224.1L1013.0,222.7L1013.5,223.0L1014.0,223.0L1014.6,233.3L1015.1,231.2L1015.6,235.3L1016.2,232.6L1016.8,233.6L1017.3,243.9L1017.8,239.4L1018.3,233.4L1018.9,227.1L1019.4,227.0L1019.9,227.8L1020.5,223.7L1021.0,223.6L1021.6,219.8L1022.1,220.6L1022.7,216.8L1023.4,215.2L1024.0,208.6L1024.7,216.0L1025.3,212.0L1025.9,216.9L1026.6,211.6L1027.2,222.7L1027.9,229.8L1028.5,229.1L1029.2,227.0L1029.9,228.3L1030.6,220.0L1031.1,222.3L1031.7,226.7L1032.2,225.1L1032.7,233.3L1033.3,239.9L1034.0,254.0L1034.6,239.2L1035.3,235.2L1035.9,231.2L1036.5,230.2L1037.2,229.7L1037.8,230.5L1038.5,224.3L1039.1,222.0L1039.6,214.2L1040.2,215.9L1040.8,209.4L1041.3,206.0L1041.8,208.7L1042.3,206.2L1042.9,197.1L1043.4,189.1L1044.0,183.6L1044.7,184.2L1045.3,186.1L1046.0,181.3L1046.6,182.7L1047.2,183.4L1047.9,183.2L1048.5,182.7L1049.2,178.5L1049.8,176.4L1050.3,167.2L1050.9,166.0L1051.6,158.1L1052.3,157.0L1053.0,153.3L1053.6,157.6L1054.3,158.8L1054.9,155.2L1055.6,151.3L1056.2,149.0L1056.8,147.4L1057.4,144.4L1058.1,142.4L1058.7,135.5L1059.3,127.8L1059.9,123.8L1060.6,136.5L1061.2,136.0L1061.9,134.5L1062.5,138.4L1063.2,142.9L1063.9,144.0L1064.6,144.8L1065.2,147.5L1065.9,142.9L1066.5,154.2L1067.2,158.8L1067.8,159.6L1068.3,153.0L1068.8,139.4L1069.4,142.5L1069.9,134.2L1070.5,139.2L1071.2,139.3L1071.8,142.6L1072.5,141.3L1073.1,144.8L1073.7,144.8L1074.4,152.3L1075.0,150.8L1075.7,155.7L1076.3,157.5L1076.9,167.2L1077.6,154.9L1078.2,149.2L1078.9,139.3L1079.5,142.7L1080.1,142.1L1080.7,144.2L1081.3,136.6L1081.9,137.9L1082.5,128.3L1083.1,139.2L1083.7,136.3L1084.3,133.1L1085.0,137.8L1085.6,140.2L1086.3,132.3L1086.9,132.1L1087.6,126.8L1088.3,113.5L1089.0,102.4L1089.8,94.5L1090.5,88.6L1091.1,89.3L1091.6,88.2L1092.2,100.7L1092.7,99.9L1093.3,98.1L1093.9,94.1L1094.5,102.7L1095.2,95.2L1095.8,92.7L1096.4,99.2L1097.0,106.5L1097.7,97.6L1098.3,112.0L1099.0,109.4L1099.6,110.9L1100.2,116.7L1100.9,117.6L1101.5,122.8L1102.2,120.8L1102.8,121.5L1103.4,118.8L1104.1,112.5L1104.7,111.5L1105.4,99.5L1106.0,96.0L1106.7,97.0L1107.4,95.5L1108.1,84.4L1108.6,88.6L1109.2,95.6L1109.7,95.6L1110.2,102.4L1110.8,103.3L1111.5,107.9L1112.1,107.1L1112.8,107.2L1113.4,113.0L1114.0,116.3L1114.7,120.7L1115.3,124.7L1116.0,129.4L1116.6,129.9L1117.1,124.5L1117.7,140.9L1118.2,135.5L1118.7,138.4L1119.3,132.8L1120.0,131.6L1120.6,132.9L1121.3,131.7L1121.9,125.7L1122.5,122.9L1123.1,123.9L1123.8,114.2L1124.4,121.3L1125.0,119.3L1125.6,116.3L1126.3,112.1L1126.9,116.0L1127.6,116.5L1128.2,106.6L1128.8,113.4L1129.5,107.9L1130.1,121.6L1130.8,115.4L1131.4,119.3L1132.1,123.4L1132.8,125.2L1133.5,132.1L1134.1,128.0L1134.8,122.9L1135.4,115.0L1136.1,107.5L1136.7,102.4L1137.3,95.4L1138.0,87.7L1138.6,87.7L1139.2,77.0L1139.8,79.4L1140.4,85.7L1141.0,90.3L1141.6,96.0L1142.1,99.6L1142.7,108.7L1143.2,110.3L1143.7,123.6L1144.3,127.5L1145.0,130.5L1145.6,128.7L1146.2,132.1L1146.8,136.6L1147.3,123.9L1147.9,128.1L1148.4,123.6L1149.0,123.4L1149.6,116.8L1150.3,116.1L1150.9,118.7L1151.5,113.0L1152.0,118.0L1152.6,123.9L1153.2,133.3L1153.7,132.1L1154.4,135.9L1155.1,130.1L1155.8,140.5L1156.3,140.6L1156.8,150.8L1157.4,149.6L1157.9,153.3L1158.6,146.4L1159.3,140.2L1160.0,146.9L1160.7,154.7L1161.4,166.2L1162.1,166.0L1162.7,168.7L1163.2,182.7L1163.9,181.3L1164.6,200.3L1165.3,206.0L1165.8,215.3L1166.4,229.3L1167.1,221.0L1167.8,213.8L1168.5,208.1L1169.2,198.7L1169.9,198.7L1170.6,191.2L1171.1,198.0L1171.7,199.2L1172.2,198.6L1172.7,203.9L1173.5,215.8L1174.2,218.7L1174.8,208.4L1175.3,201.4L1175.9,189.1L1176.6,188.0L1177.3,197.5L1178.0,197.5L1178.7,203.4L1179.4,208.5L1180.1,206.0L1180.7,211.1L1181.2,217.7L1181.8,220.9L1182.5,209.9L1183.3,203.9L1184.0,210.9L1184.8,210.3" fill="none" stroke="#f69d16" stroke-width="2.5" stroke-linejoin="round" stroke-linecap="round"/>
<line x1="505" y1="27.5" x2="530" y2="27.5" stroke="#e3e7f0" stroke-width="2.2"/>
<line x1="761" y1="27.5" x2="787" y2="27.5" stroke="#f69d16" stroke-width="2.2"/>
<text x="537" y="33.8" font-family="DejaVu Sans, Verdana, Liberation Sans, sans-serif" font-size="17.7" fill="#dfe2ea" stroke="#dfe2ea" stroke-width="0.75" text-anchor="start" textLength="214" lengthAdjust="spacingAndGlyphs">BTC Risk-Appetite Index</text>
<text x="792" y="33.8" font-family="DejaVu Sans, Verdana, Liberation Sans, sans-serif" font-size="17.7" fill="#dfe2ea" stroke="#dfe2ea" stroke-width="0.75" text-anchor="start" textLength="82" lengthAdjust="spacingAndGlyphs">BTC Spot</text>
<text x="127.4" y="538.2" font-family="DejaVu Sans, Verdana, Liberation Sans, sans-serif" font-size="17.7" fill="#dfe2ea" stroke="#dfe2ea" stroke-width="0.75" text-anchor="middle" textLength="80" lengthAdjust="spacingAndGlyphs">Jan 2021</text>
<text x="232.7" y="538.2" font-family="DejaVu Sans, Verdana, Liberation Sans, sans-serif" font-size="17.7" fill="#dfe2ea" stroke="#dfe2ea" stroke-width="0.75" text-anchor="middle" textLength="74.5" lengthAdjust="spacingAndGlyphs">Jul 2021</text>
<text x="339.8" y="538.2" font-family="DejaVu Sans, Verdana, Liberation Sans, sans-serif" font-size="17.7" fill="#dfe2ea" stroke="#dfe2ea" stroke-width="0.75" text-anchor="middle" textLength="80" lengthAdjust="spacingAndGlyphs">Jan 2022</text>
<text x="445.1" y="538.2" font-family="DejaVu Sans, Verdana, Liberation Sans, sans-serif" font-size="17.7" fill="#dfe2ea" stroke="#dfe2ea" stroke-width="0.75" text-anchor="middle" textLength="74.5" lengthAdjust="spacingAndGlyphs">Jul 2022</text>
<text x="552.2" y="538.2" font-family="DejaVu Sans, Verdana, Liberation Sans, sans-serif" font-size="17.7" fill="#dfe2ea" stroke="#dfe2ea" stroke-width="0.75" text-anchor="middle" textLength="80" lengthAdjust="spacingAndGlyphs">Jan 2023</text>
<text x="657.5" y="538.2" font-family="DejaVu Sans, Verdana, Liberation Sans, sans-serif" font-size="17.7" fill="#dfe2ea" stroke="#dfe2ea" stroke-width="0.75" text-anchor="middle" textLength="74.5" lengthAdjust="spacingAndGlyphs">Jul 2023</text>
<text x="764.6" y="538.2" font-family="DejaVu Sans, Verdana, Liberation Sans, sans-serif" font-size="17.7" fill="#dfe2ea" stroke="#dfe2ea" stroke-width="0.75" text-anchor="middle" textLength="80" lengthAdjust="spacingAndGlyphs">Jan 2024</text>
<text x="870.5" y="538.2" font-family="DejaVu Sans, Verdana, Liberation Sans, sans-serif" font-size="17.7" fill="#dfe2ea" stroke="#dfe2ea" stroke-width="0.75" text-anchor="middle" textLength="74.5" lengthAdjust="spacingAndGlyphs">Jul 2024</text>
<text x="977.6" y="538.2" font-family="DejaVu Sans, Verdana, Liberation Sans, sans-serif" font-size="17.7" fill="#dfe2ea" stroke="#dfe2ea" stroke-width="0.75" text-anchor="middle" textLength="80" lengthAdjust="spacingAndGlyphs">Jan 2025</text>
<text x="1082.9" y="538.2" font-family="DejaVu Sans, Verdana, Liberation Sans, sans-serif" font-size="17.7" fill="#dfe2ea" stroke="#dfe2ea" stroke-width="0.75" text-anchor="middle" textLength="74.5" lengthAdjust="spacingAndGlyphs">Jul 2025</text>
<text x="122.6" y="60.8" font-family="DejaVu Sans, Verdana, Liberation Sans, sans-serif" font-size="17.7" fill="#dfe2ea" stroke="#dfe2ea" stroke-width="0.75" text-anchor="end">2</text>
<text x="122.6" y="116.9" font-family="DejaVu Sans, Verdana, Liberation Sans, sans-serif" font-size="17.7" fill="#dfe2ea" stroke="#dfe2ea" stroke-width="0.75" text-anchor="end">1.5</text>
<text x="122.6" y="173.1" font-family="DejaVu Sans, Verdana, Liberation Sans, sans-serif" font-size="17.7" fill="#dfe2ea" stroke="#dfe2ea" stroke-width="0.75" text-anchor="end">1</text>
<text x="122.6" y="229.2" font-family="DejaVu Sans, Verdana, Liberation Sans, sans-serif" font-size="17.7" fill="#dfe2ea" stroke="#dfe2ea" stroke-width="0.75" text-anchor="end">0.5</text>
<text x="122.6" y="285.4" font-family="DejaVu Sans, Verdana, Liberation Sans, sans-serif" font-size="17.7" fill="#dfe2ea" stroke="#dfe2ea" stroke-width="0.75" text-anchor="end">0</text>
<text x="122.6" y="341.5" font-family="DejaVu Sans, Verdana, Liberation Sans, sans-serif" font-size="17.7" fill="#dfe2ea" stroke="#dfe2ea" stroke-width="0.75" text-anchor="end">−0.5</text>
<text x="122.6" y="397.7" font-family="DejaVu Sans, Verdana, Liberation Sans, sans-serif" font-size="17.7" fill="#dfe2ea" stroke="#dfe2ea" stroke-width="0.75" text-anchor="end">−1</text>
<text x="122.6" y="453.8" font-family="DejaVu Sans, Verdana, Liberation Sans, sans-serif" font-size="17.7" fill="#dfe2ea" stroke="#dfe2ea" stroke-width="0.75" text-anchor="end">−1.5</text>
<text x="122.6" y="510.0" font-family="DejaVu Sans, Verdana, Liberation Sans, sans-serif" font-size="17.7" fill="#dfe2ea" stroke="#dfe2ea" stroke-width="0.75" text-anchor="end">−2</text>
<text x="1189.9" y="488.7" font-family="DejaVu Sans, Verdana, Liberation Sans, sans-serif" font-size="17.7" fill="#dfe2ea" stroke="#dfe2ea" stroke-width="0.75" text-anchor="start" textLength="45.4" lengthAdjust="spacingAndGlyphs">$10K</text>
<text x="1189.9" y="453.7" font-family="DejaVu Sans, Verdana, Liberation Sans, sans-serif" font-size="17.7" fill="#dfe2ea" stroke="#dfe2ea" stroke-width="0.75" text-anchor="start" textLength="45.4" lengthAdjust="spacingAndGlyphs">$20K</text>
<text x="1189.9" y="418.7" font-family="DejaVu Sans, Verdana, Liberation Sans, sans-serif" font-size="17.7" fill="#dfe2ea" stroke="#dfe2ea" stroke-width="0.75" text-anchor="start" textLength="45.4" lengthAdjust="spacingAndGlyphs">$30K</text>
<text x="1189.9" y="383.6" font-family="DejaVu Sans, Verdana, Liberation Sans, sans-serif" font-size="17.7" fill="#dfe2ea" stroke="#dfe2ea" stroke-width="0.75" text-anchor="start" textLength="45.4" lengthAdjust="spacingAndGlyphs">$40K</text>
<text x="1189.9" y="348.6" font-family="DejaVu Sans, Verdana, Liberation Sans, sans-serif" font-size="17.7" fill="#dfe2ea" stroke="#dfe2ea" stroke-width="0.75" text-anchor="start" textLength="45.4" lengthAdjust="spacingAndGlyphs">$50K</text>
<text x="1189.9" y="313.6" font-family="DejaVu Sans, Verdana, Liberation Sans, sans-serif" font-size="17.7" fill="#dfe2ea" stroke="#dfe2ea" stroke-width="0.75" text-anchor="start" textLength="45.4" lengthAdjust="spacingAndGlyphs">$60K</text>
<text x="1189.9" y="278.6" font-family="DejaVu Sans, Verdana, Liberation Sans, sans-serif" font-size="17.7" fill="#dfe2ea" stroke="#dfe2ea" stroke-width="0.75" text-anchor="start" textLength="45.4" lengthAdjust="spacingAndGlyphs">$70K</text>
<text x="1189.9" y="243.6" font-family="DejaVu Sans, Verdana, Liberation Sans, sans-serif" font-size="17.7" fill="#dfe2ea" stroke="#dfe2ea" stroke-width="0.75" text-anchor="start" textLength="45.4" lengthAdjust="spacingAndGlyphs">$80K</text>
<text x="1189.9" y="208.5" font-family="DejaVu Sans, Verdana, Liberation Sans, sans-serif" font-size="17.7" fill="#dfe2ea" stroke="#dfe2ea" stroke-width="0.75" text-anchor="start" textLength="45.4" lengthAdjust="spacingAndGlyphs">$90K</text>
<text x="1189.9" y="173.5" font-family="DejaVu Sans, Verdana, Liberation Sans, sans-serif" font-size="17.7" fill="#dfe2ea" stroke="#dfe2ea" stroke-width="0.75" text-anchor="start" textLength="56.4" lengthAdjust="spacingAndGlyphs">$100K</text>
<text x="1189.9" y="138.5" font-family="DejaVu Sans, Verdana, Liberation Sans, sans-serif" font-size="17.7" fill="#dfe2ea" stroke="#dfe2ea" stroke-width="0.75" text-anchor="start" textLength="56.4" lengthAdjust="spacingAndGlyphs">$110K</text>
<text x="1189.9" y="103.5" font-family="DejaVu Sans, Verdana, Liberation Sans, sans-serif" font-size="17.7" fill="#dfe2ea" stroke="#dfe2ea" stroke-width="0.75" text-anchor="start" textLength="56.4" lengthAdjust="spacingAndGlyphs">$120K</text>
<text x="1189.9" y="68.5" font-family="DejaVu Sans, Verdana, Liberation Sans, sans-serif" font-size="17.7" fill="#dfe2ea" stroke="#dfe2ea" stroke-width="0.75" text-anchor="start" textLength="56.4" lengthAdjust="spacingAndGlyphs">$130K</text>
<text transform="translate(72.3,278.9) rotate(-90)" font-family="DejaVu Sans, Verdana, Liberation Sans, sans-serif" font-size="21.6" fill="#dfe2ea" stroke="#dfe2ea" stroke-width="0.75" text-anchor="middle" textLength="314.6" lengthAdjust="spacingAndGlyphs">BTC Risk-Apptite Index Value</text>
<text transform="translate(1258.2,279.1) rotate(-90)" font-family="DejaVu Sans, Verdana, Liberation Sans, sans-serif" font-size="21.6" fill="#dfe2ea" stroke="#dfe2ea" stroke-width="0.75" text-anchor="middle" textLength="158.2" lengthAdjust="spacingAndGlyphs">BTC Spot Price</text>
</svg>
</body></html>
